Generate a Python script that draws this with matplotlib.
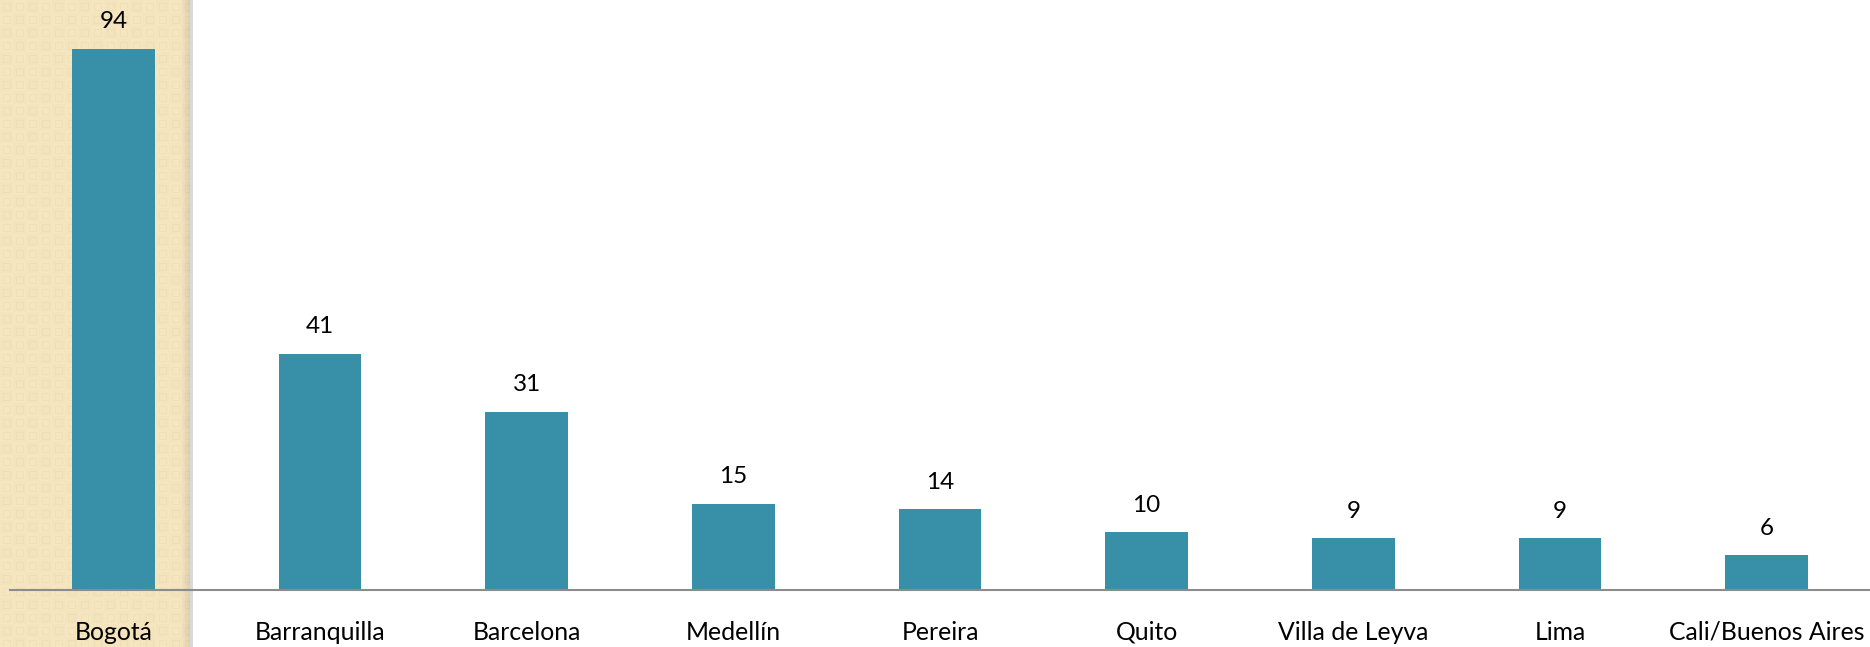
import numpy as np
import matplotlib
matplotlib.use('Agg')
from matplotlib import pyplot as plt
from matplotlib.patches import Rectangle

# cities and counts
cities = ['Bogotá', 'Barranquilla', 'Barcelona', 'Medellín', 'Pereira',
          'Quito', 'Villa de Leyva', 'Lima', 'Cali/Buenos Aires']
counts = [94, 41, 31, 15, 14, 10, 9, 9, 6]

plt.rcParams['font.family'] = ['Lato', 'DejaVu Sans']

W, H = 1870, 647
fig = plt.figure(figsize=(W / 100, H / 100), dpi=100)

# beige textured strip on the left (slide background)
strip_w = 190
yy, xx = np.mgrid[0:H, 0:strip_w]
per = 13
cx = (xx % per) - per / 2
cy = (yy % per) - per / 2
ring = (np.maximum(abs(cx), abs(cy)) > 2.5) & (np.maximum(abs(cx), abs(cy)) < 4.5)
base = np.array([0.965, 0.905, 0.755])
dark = np.array([0.945, 0.880, 0.730])
img = np.where(ring[..., None], dark, base)
chk = ((xx // per + yy // per) % 2 == 0)
img = np.where(chk[..., None], img * 0.99, img)
# shadow towards the right edge
shade = np.clip((xx - (strip_w - 10)) / 10, 0, 1)
img = img * (1 - 0.10 * shade[..., None])
fig.figimage(img, xo=0, yo=0, origin='upper', zorder=0)
fig.patches.append(Rectangle((strip_w / W, 0), 3 / W, 1, transform=fig.transFigure,
                             facecolor='#d9d9d9', edgecolor='none', zorder=0))

ax = fig.add_axes([10 / W, (H - 590) / H, (W - 10) / W, 590 / H])
ax.set_zorder(3)
ax.patch.set_alpha(0)
x = np.arange(len(cities))
ax.bar(x, counts, width=0.4, color='#378fa8', zorder=2)
for xi, v in zip(x, counts):
    ax.annotate(str(v), (xi, v), xytext=(0, 12), textcoords='offset points',
                ha='center', va='bottom', fontsize=17.5, color='black')

ax.set_xlim(-0.5, len(cities) - 0.5)
ax.set_ylim(0, 590 / 5.755)
ax.set_xticks(x)
ax.set_xticklabels(cities, fontsize=17.8)
ax.tick_params(axis='x', length=0, pad=22)
ax.set_yticks([])
for s in ['top', 'right', 'left']:
    ax.spines[s].set_visible(False)
ax.spines['bottom'].set_color('#8c8c8c')
ax.spines['bottom'].set_linewidth(1.5)

fig.savefig('out.png', dpi=100)
